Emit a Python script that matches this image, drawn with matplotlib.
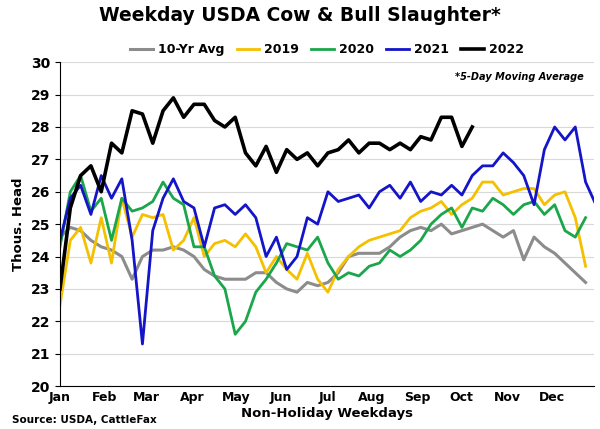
import numpy as np
import matplotlib.pyplot as plt

# weekly readings of the 5-day moving average, thous. head
avg10 = [24.6, 24.9, 24.8, 24.5, 24.3, 24.2, 24.0, 23.3, 24.0, 24.2, 24.2, 24.3, 24.2,
         24.0, 23.6, 23.4, 23.3, 23.3, 23.3, 23.5, 23.5, 23.2, 23.0, 22.9, 23.2, 23.1,
         23.2, 23.5, 24.0, 24.1, 24.1, 24.1, 24.3, 24.6, 24.8, 24.9, 24.8, 25.0, 24.7,
         24.8, 24.9, 25.0, 24.8, 24.6, 24.8, 23.9, 24.6, 24.3, 24.1, 23.8, 23.5, 23.2]
y2019 = [22.5, 24.5, 24.9, 23.8, 25.2, 23.8, 25.8, 24.6, 25.3, 25.2, 25.3, 24.2, 24.5,
         25.2, 24.0, 24.4, 24.5, 24.3, 24.7, 24.3, 23.5, 24.0, 23.6, 23.3, 24.1, 23.3,
         22.9, 23.6, 24.0, 24.3, 24.5, 24.6, 24.7, 24.8, 25.2, 25.4, 25.5, 25.7, 25.3,
         25.6, 25.8, 26.3, 26.3, 25.9, 26.0, 26.1, 26.1, 25.6, 25.9, 26.0, 25.2, 23.7]
y2020 = [24.3, 26.0, 26.5, 25.4, 25.8, 24.5, 25.8, 25.4, 25.5, 25.7, 26.3, 25.8, 25.6,
         24.3, 24.3, 23.4, 23.0, 21.6, 22.0, 22.9, 23.3, 23.8, 24.4, 24.3, 24.2, 24.6,
         23.8, 23.3, 23.5, 23.4, 23.7, 23.8, 24.2, 24.0, 24.2, 24.5, 25.0, 25.3, 25.5,
         24.9, 25.5, 25.4, 25.8, 25.6, 25.3, 25.6, 25.7, 25.3, 25.6, 24.8, 24.6, 25.2]
y2021 = [24.5, 25.8, 26.2, 25.3, 26.5, 25.8, 26.4, 24.5, 21.3, 24.8, 25.8, 26.4, 25.7,
         25.5, 24.3, 25.5, 25.6, 25.3, 25.6, 25.2, 24.0, 24.6, 23.6, 24.0, 25.2, 25.0,
         26.0, 25.7, 25.8, 25.9, 25.5, 26.0, 26.2, 25.8, 26.3, 25.7, 26.0, 25.9, 26.2,
         25.9, 26.5, 26.8, 26.8, 27.2, 26.9, 26.5, 25.6, 27.3, 28.0, 27.6, 28.0, 26.3, 25.6]
y2022 = [23.0, 25.5, 26.5, 26.8, 26.0, 27.5, 27.2, 28.5, 28.4, 27.5, 28.5, 28.9, 28.3,
         28.7, 28.7, 28.2, 28.0, 28.3, 27.2, 26.8, 27.4, 26.6, 27.3, 27.0, 27.2, 26.8,
         27.2, 27.3, 27.6, 27.2, 27.5, 27.5, 27.3, 27.5, 27.3, 27.7, 27.6, 28.3, 28.3,
         27.4, 28.0]

months = ["Jan", "Feb", "Mar", "Apr", "May", "Jun", "Jul", "Aug", "Sep", "Oct", "Nov", "Dec"]
month_pos = [0, 21, 41, 63, 84, 105, 127, 148, 170, 191, 213, 234]

series = [("10-Yr Avg", avg10, "#8c8c8c", 2.2),
          ("2019", y2019, "#f5c000", 2.0),
          ("2020", y2020, "#1aa64a", 2.0),
          ("2021", y2021, "#1414c8", 2.0),
          ("2022", y2022, "black", 2.6)]

fig, ax = plt.subplots(figsize=(6, 4.29), dpi=100)
for name, vals, color, lw in series:
    x = np.arange(len(vals)) * (250 / 51)
    ax.plot(x, vals, color=color, lw=lw, label=name)

ax.set_xlim(0, 254)
ax.set_ylim(20, 30)
ax.set_yticks(range(20, 31))
ax.set_xticks(month_pos)
ax.set_xticklabels(months, fontweight="bold", fontsize=9)
for lbl in ax.get_yticklabels():
    lbl.set_fontweight("bold")
    lbl.set_fontsize(10)
ax.tick_params(axis="x", length=0)
ax.set_ylabel("Thous. Head", fontweight="bold", fontsize=9.5)
ax.set_xlabel("Non-Holiday Weekdays", fontweight="bold", fontsize=9.5, labelpad=2)
ax.grid(axis="y", color="#d9d9d9", lw=0.8)
ax.set_axisbelow(True)
for s in ["top", "right"]:
    ax.spines[s].set_visible(False)

fig.suptitle("Weekday USDA Cow & Bull Slaughter*", fontweight="bold", fontsize=13.5, y=0.985)
ax.legend(loc="lower center", bbox_to_anchor=(0.5, 1.0), ncol=5, frameon=False,
          prop={"weight": "bold", "size": 9}, handlelength=1.8, columnspacing=1.0,
          handletextpad=0.4, borderaxespad=0.1)
ax.text(0.98, 0.97, "*5-Day Moving Average", transform=ax.transAxes, ha="right",
        va="top", fontsize=7, style="italic", fontweight="bold")
fig.text(0.02, 0.015, "Source: USDA, CattleFax", fontsize=7.5, fontweight="bold")

fig.subplots_adjust(left=0.1, right=0.99, top=0.855, bottom=0.1)
fig.savefig("out.png", dpi=100)
